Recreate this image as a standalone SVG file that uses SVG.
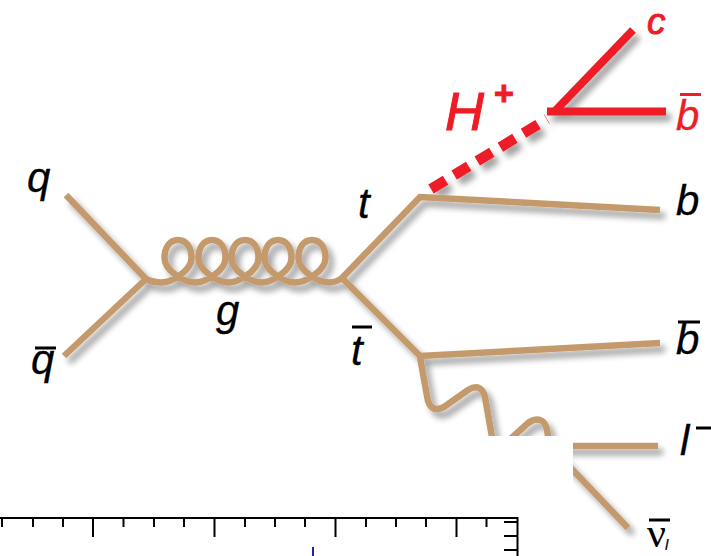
<svg xmlns="http://www.w3.org/2000/svg" width="711" height="556" viewBox="0 0 711 556">
<style>
.l{font-family:"Liberation Sans",Arial,sans-serif;font-style:italic;font-size:42px;fill:#000;stroke:#000;stroke-width:.3}
.r{fill:#ee1c25;stroke:#ee1c25}
.t{fill:none;stroke:#c49a6c;stroke-width:6.5;stroke-linejoin:miter}
.h{fill:none;stroke:#ee1c25;stroke-width:8}
.a{stroke:#000;stroke-width:2;fill:none}
.bar{stroke:#000;stroke-width:3}
.rb{stroke:#ee1c25}
</style>
<defs>
<filter id="s" filterUnits="userSpaceOnUse" x="0" y="0" width="711" height="556">
<feGaussianBlur in="SourceAlpha" stdDeviation="3"/>
<feOffset dx="5" dy="6"/>
<feComponentTransfer><feFuncA type="linear" slope="0.38"/></feComponentTransfer>
<feMerge><feMergeNode/><feMergeNode in="SourceGraphic"/></feMerge>
</filter>
</defs>
<g id="connectors" filter="url(#s)">
<path class="t" d="M66 195L146 279"/>
<path class="t" d="M64 356L146 279"/>
<path class="t" d="M146 279C150 281 155 282.500 161.500 282.500C171 282.500 191.500 271 191.500 258C191.500 247 186 240 178 240C170 240 164.500 247 164.500 258C164.500 271 185 282.500 195 282.500C205 282.500 225.500 271 225.500 258C225.500 247 220 240 212 240C204 240 198.500 247 198.500 258C198.500 271 219 282.500 228.500 282.500C238 282.500 258.500 271 258.500 258C258.500 247 253 240 245 240C237 240 231.500 247 231.500 258C231.500 271 252 282.500 261.500 282.500C271 282.500 291.500 271 291.500 258C291.500 247 286 240 278 240C270 240 264.500 247 264.500 258C264.500 271 285 282.500 295 282.500C305 282.500 325.500 271 325.500 258C325.500 247 320 240 312 240C304 240 298.500 247 298.500 258C298.500 271 319 282.500 329 282.500C334 282.500 338 281 342 278"/>
<path class="t" d="M342 278L420 197L660 210"/>
<path class="t" d="M342 278L420 356L660 343"/>
<path class="t" d="M420 357L427 396C429 410 436 411 444 407L468 390C478 384 483 389 485 397L492 437C494 447 498 448 505 444L528 423C538 416 545 420 547 430L550 446"/>
<path class="t" d="M550 446L658 446"/>
<path class="t" d="M550 446L628 528"/>
<path class="h" d="M547 111.500L666 111.500"/>
<path class="h" d="M555 111L633 30"/>
<path d="M431 189L547 119" fill="none" stroke="#ee1c25" stroke-width="10.500" stroke-dasharray="17 10"/>
</g>
<rect x="0" y="436" width="573" height="80" fill="#fff"/>
<g id="axis">
<path class="a" d="M0 518H517.500V556"/>
<path class="a" d="M2 518V527M33 518V527M63 518V527M93 518V537M123.500 518V527M154 518V527M184 518V527M214.500 518V537M245 518V527M275 518V527M305 518V527M335.500 518V537M366 518V527M396 518V527M426 518V527M456.500 518V537M486.500 518V527"/>
<path class="a" d="M504 522H517M504 536H517M504 550H517"/>
<path d="M313 547V556" stroke="#2222aa" stroke-width="2"/>
</g>
<g id="q"><text class="l" x="27" y="192">q</text></g>
<g id="qbar"><text class="l" x="31" y="374">q</text><path class="bar" d="M35 348H56"/></g>
<g id="g"><text class="l" x="216" y="325">g</text></g>
<g id="t"><text class="l" x="358" y="218">t</text></g>
<g id="tbar"><text class="l" x="351" y="365">t</text><path class="bar" d="M352 327H372"/></g>
<g id="b"><text class="l" x="676" y="215">b</text></g>
<g id="bbar"><text class="l" x="676" y="354">b</text><path class="bar" d="M678 322H700"/></g>
<g id="lminus"><text class="l" x="680" y="455">l</text><path class="bar" d="M696 428H711"/></g>
<g id="nu"><text x="647" y="547" style="font-family:'Liberation Serif',serif;font-size:42px;fill:#000">ν</text><path class="bar" d="M649 520H670"/><text class="l" x="665" y="550" style="font-size:15px;stroke-width:.2">l</text></g>
<g id="Hplus"><text class="l r" x="445" y="130" style="font-size:54px;stroke-width:1">H</text><text class="r" x="494" y="105" style="font-family:'Liberation Sans',sans-serif;font-weight:bold;font-size:34px">+</text></g>
<g id="c"><text class="l r" x="647" y="33.500" style="font-size:37px;stroke-width:1">c</text></g>
<g id="bbarred"><text class="l r" x="676" y="130">b</text><path class="bar rb" d="M680 94.500H701"/></g>
</svg>
